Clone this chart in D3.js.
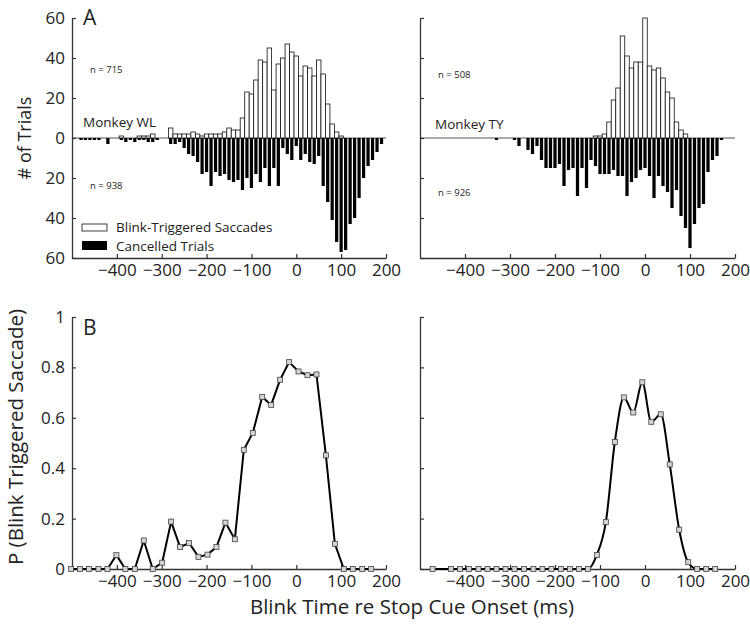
<!DOCTYPE html>
<html>
<head>
<meta charset="utf-8">
<script src="https://cdn.jsdelivr.net/npm/d3@7"></script>
<style>
  body { margin: 0; background: #fff; }
  svg text { font-family: "Open Sans", sans-serif; fill: #222; }
</style>
</head>
<body>
<div id="chart"></div>
<script>
// histogram bin centres (ms re stop cue onset)
const binCenters = [
  -500, -490, -480, -470, -460, -450, -440, -430, -420, -410,
  -400, -390, -380, -370, -360, -350, -340, -330, -320, -310,
  -300, -290, -280, -270, -260, -250, -240, -230, -220, -210,
  -200, -190, -180, -170, -160, -150, -140, -130, -120, -110,
  -100, -90, -80, -70, -60, -50, -40, -30, -20, -10,
  0, 10, 20, 30, 40, 50, 60, 70, 80, 90,
  100, 110, 120, 130, 140, 150, 160, 170, 180, 190]

// Monkey WL
const wlSaccades = [
  0, 0, 0, 0, 0, 0, 0, 0, 0, 0,
  0, 1, 0, 0, 0, 1, 1, 1, 2, 0,
  0, 0, 5, 2, 2, 2, 2, 3, 2, 1,
  2, 2, 2, 2, 3, 5, 4, 4, 10, 23,
  22, 29, 39, 38, 45, 24, 37, 40, 47, 43,
  41, 31, 36, 35, 31, 39, 32, 17, 7, 3,
  1, 0, 0, 0, 0, 0, 0, 0, 0, 0]
const wlCancelled = [
  0, 0, 1, 1, 1, 1, 1, 0, 3, 0,
  0, 1, 2, 1, 2, 1, 1, 2, 2, 1,
  0, 0, 3, 3, 2, 5, 8, 9, 12, 18,
  17, 24, 17, 19, 18, 21, 22, 21, 26, 20,
  25, 18, 22, 15, 24, 15, 24, 5, 8, 11,
  4, 11, 8, 12, 13, 9, 24, 32, 41, 52,
  57, 56, 43, 40, 30, 20, 14, 11, 7, 3]

// Monkey TY
const tySaccades = [
  0, 0, 0, 0, 0, 0, 0, 0, 0, 0,
  0, 0, 0, 0, 0, 0, 0, 0, 0, 0,
  0, 0, 0, 0, 0, 0, 0, 0, 0, 0,
  0, 0, 0, 0, 0, 0, 0, 0, 0, 1,
  1, 2, 8, 19, 25, 51, 41, 35, 38, 38,
  60, 36, 34, 35, 30, 23, 20, 8, 4, 2,
  0, 0, 0, 0, 0, 0, 0, 0, 0, 0]
const tyCancelled = [
  0, 0, 0, 0, 0, 0, 0, 0, 0, 0,
  0, 0, 0, 0, 0, 0, 0, 1, 0, 0,
  0, 1, 4, 0, 6, 8, 4, 11, 15, 15,
  15, 13, 24, 16, 15, 29, 15, 25, 11, 14,
  18, 18, 18, 16, 19, 19, 29, 22, 20, 16,
  15, 19, 30, 19, 24, 27, 35, 26, 39, 45,
  55, 43, 35, 33, 17, 11, 9, 1, 0, 0]

// P(blink triggered saccade)
const wlProbTimes = [-502, -482, -462, -441, -421, -401, -381, -360, -340, -320,
  -299, -279, -259, -239, -218, -198, -178, -158, -137, -117,
  -97, -76, -56, -36, -16, 5, 25, 45, 66, 86, 106, 126, 147, 167]
const wlProb = [0, 0, 0, 0, 0, 0.055, 0, 0, 0.113, 0,
  0.025, 0.188, 0.087, 0.103, 0.048, 0.057, 0.087, 0.184, 0.118, 0.473,
  0.54, 0.683, 0.651, 0.751, 0.821, 0.784, 0.769, 0.772, 0.451, 0.1, 0, 0, 0, 0]
const tyProbTimes = [-472, -431, -411, -391, -370, -350, -330, -310, -290, -269,
  -248, -228, -208, -187, -167, -147, -127, -107, -87, -67,
  -47, -26, -6, 14, 35, 55, 76, 96, 116, 136, 156]
const tyProb = [0, 0, 0, 0, 0, 0, 0, 0, 0, 0,
  0, 0, 0, 0, 0, 0, 0, 0.056, 0.186, 0.504,
  0.681, 0.621, 0.741, 0.584, 0.614, 0.415, 0.156, 0.027, 0, 0, 0]

const timeTicks = [-400, -300, -200, -100, 0, 100, 200]
const countTicks = [-60, -40, -20, 0, 20, 40, 60]
const probTicks = [0, 0.2, 0.4, 0.6, 0.8, 1]

;(function () {
  const width = 750
  const height = 626

  const svg = d3.select("#chart").append("svg")
      .attr("width", width)
      .attr("height", height)

  svg.append("rect").attr("width", width).attr("height", height).attr("fill", "#fff")

  // horizontal extents of the two columns
  const leftCol = [72, 386]
  const rightCol = [420, 735]

  const yCount = d3.scaleLinear().domain([-60, 60]).range([258, 18])
  const yProb = d3.scaleLinear().domain([0, 1]).range([569, 317])

  function styleAxis(g) {
    g.select(".domain").attr("stroke", "#333").attr("stroke-width", 1.3)
    g.selectAll(".tick line").attr("stroke", "#333").attr("stroke-width", 1.2)
    g.selectAll(".tick text").style("font-size", "17px").attr("fill", "#222")
  }

  function drawHist(col, saccades, cancelled, showLabels) {
    const x = d3.scaleLinear().domain([-500, 200]).range(col)
    const bw = x(10) - x(0)
    const g = svg.append("g")

    // zero line
    g.append("line")
      .attr("x1", col[0]).attr("x2", col[1])
      .attr("y1", yCount(0)).attr("y2", yCount(0))
      .attr("stroke", "#555").attr("stroke-width", 1)

    // cancelled trials hang below zero
    g.selectAll(".canc")
      .data(binCenters.map((c, i) => ({ c: c, n: cancelled[i] })).filter(d => d.n > 0))
      .join("rect")
      .attr("class", "canc")
      .attr("x", d => x(d.c) - bw * 0.36)
      .attr("width", bw * 0.72)
      .attr("y", yCount(0))
      .attr("height", d => yCount(-d.n) - yCount(0))
      .attr("fill", "#000")

    // blink-triggered saccades above zero
    g.selectAll(".sacc")
      .data(binCenters.map((c, i) => ({ c: c, n: saccades[i] })).filter(d => d.n > 0))
      .join("rect")
      .attr("class", "sacc")
      .attr("x", d => x(d.c) - bw / 2)
      .attr("width", bw)
      .attr("y", d => yCount(d.n))
      .attr("height", d => yCount(0) - yCount(d.n))
      .attr("fill", "#fff")
      .attr("stroke", "#111")
      .attr("stroke-width", 0.8)

    g.append("g")
      .attr("transform", "translate(0," + yCount(-60) + ")")
      .call(d3.axisBottom(x).tickValues(timeTicks).tickSizeInner(-4).tickSizeOuter(0).tickPadding(6))
      .call(styleAxis)

    g.append("g")
      .attr("transform", "translate(" + col[0] + ",0)")
      .call(d3.axisLeft(yCount).tickValues(countTicks).tickSizeInner(-4).tickSizeOuter(0).tickPadding(7)
        .tickFormat(d => showLabels ? Math.abs(d) : ""))
      .call(styleAxis)
  }

  function drawProb(col, times, probs, curve, showLabels) {
    const x = d3.scaleLinear().domain([-500, 200]).range(col)
    const g = svg.append("g")
    const pts = times.map((t, i) => ({ t: t, p: probs[i] }))

    g.append("g")
      .attr("transform", "translate(0," + yProb(0) + ")")
      .call(d3.axisBottom(x).tickValues(timeTicks).tickSizeInner(-4).tickSizeOuter(0).tickPadding(6))
      .call(styleAxis)

    g.append("g")
      .attr("transform", "translate(" + col[0] + ",0)")
      .call(d3.axisLeft(yProb).tickValues(probTicks).tickSizeInner(-4).tickSizeOuter(0).tickPadding(7)
        .tickFormat(d => showLabels ? d : ""))
      .call(styleAxis)

    const line = d3.line().x(d => x(d.t)).y(d => yProb(d.p)).curve(curve)
    g.append("path")
      .datum(pts)
      .attr("d", line)
      .attr("fill", "none")
      .attr("stroke", "#000")
      .attr("stroke-width", 2)

    g.selectAll(".mk")
      .data(pts)
      .join("rect")
      .attr("class", "mk")
      .attr("x", d => x(d.t) - 2.5)
      .attr("y", d => yProb(d.p) - 2.5)
      .attr("width", 5)
      .attr("height", 5)
      .attr("fill", "#d4d4d4")
      .attr("stroke", "#444")
      .attr("stroke-width", 0.8)
  }

  drawHist(leftCol, wlSaccades, wlCancelled, true)
  drawHist(rightCol, tySaccades, tyCancelled, false)
  drawProb(leftCol, wlProbTimes, wlProb, d3.curveLinear, true)
  drawProb(rightCol, tyProbTimes, tyProb, d3.curveMonotoneX, false)

  // panel letters
  svg.append("text").attr("x", 83).attr("y", 25).text("A").style("font-size", "21px")
  svg.append("text").attr("x", 83).attr("y", 335).text("B").style("font-size", "21px")

  // monkey labels and counts
  const notes = [
    { x: 83, y: 127, t: "Monkey WL", s: 13.5 },
    { x: 435, y: 129, t: "Monkey TY", s: 13.5 },
    { x: 90, y: 73, t: "n = 715", s: 9.5 },
    { x: 90, y: 189, t: "n = 938", s: 9.5 },
    { x: 438, y: 78, t: "n = 508", s: 9.5 },
    { x: 438, y: 196, t: "n = 926", s: 9.5 }
  ]
  svg.selectAll(".note")
    .data(notes)
    .join("text")
    .attr("class", "note")
    .attr("x", d => d.x)
    .attr("y", d => d.y)
    .style("font-size", d => d.s + "px")
    .text(d => d.t)

  // legend
  const legend = svg.append("g")
  legend.append("rect").attr("x", 82).attr("y", 224).attr("width", 25).attr("height", 7)
    .attr("fill", "#fff").attr("stroke", "#111").attr("stroke-width", 0.8)
  legend.append("rect").attr("x", 82).attr("y", 241).attr("width", 25).attr("height", 9)
    .attr("fill", "#000")
  legend.append("text").attr("x", 116).attr("y", 232).style("font-size", "13.5px").text("Blink-Triggered Saccades")
  legend.append("text").attr("x", 116).attr("y", 250.5).style("font-size", "13.5px").text("Cancelled Trials")

  // axis titles
  svg.append("text")
    .attr("transform", "translate(31,138) rotate(-90)")
    .attr("text-anchor", "middle")
    .style("font-size", "18px")
    .text("# of Trials")

  svg.append("text")
    .attr("transform", "translate(23,437) rotate(-90)")
    .attr("text-anchor", "middle")
    .style("font-size", "20.5px")
    .text("P (Blink Triggered Saccade)")

  svg.append("text")
    .attr("x", 412)
    .attr("y", 614)
    .attr("text-anchor", "middle")
    .style("font-size", "20.5px")
    .text("Blink Time re Stop Cue Onset (ms)")
})();
</script>
</body>
</html>
